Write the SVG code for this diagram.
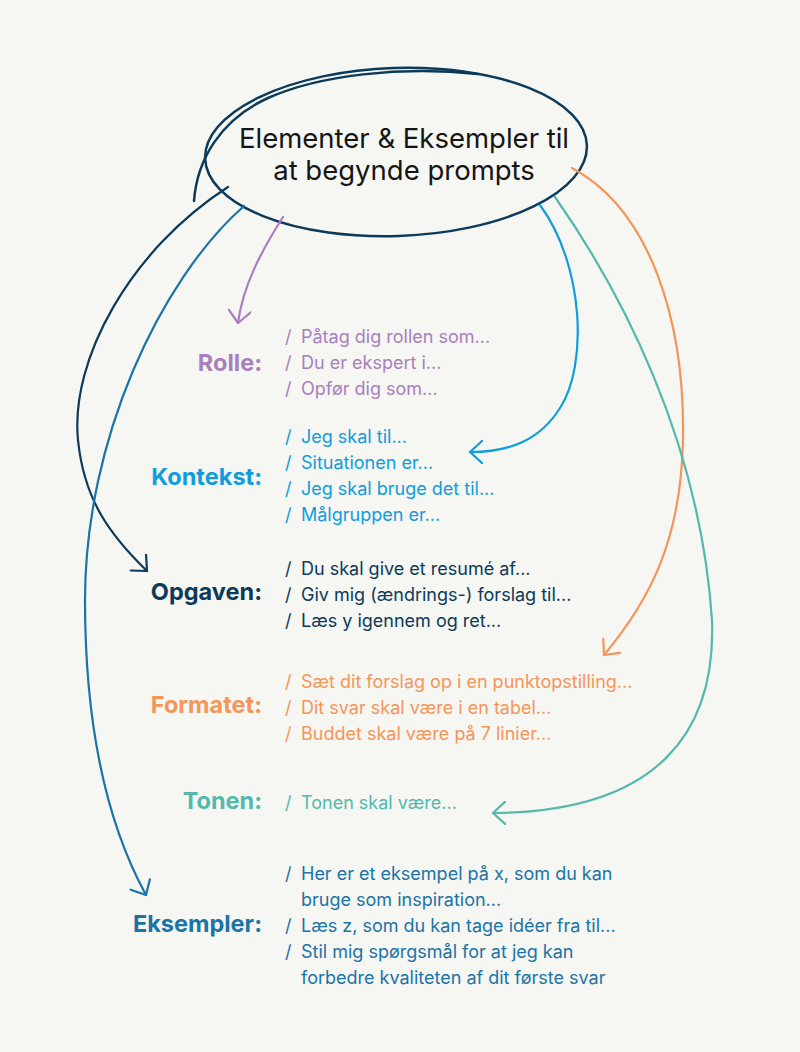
<svg xmlns="http://www.w3.org/2000/svg" width="800" height="1052" viewBox="0 0 800 1052">
<style>
.bg{fill:#f6f6f2}
.title{font-family:Inter,"Liberation Sans",sans-serif;font-size:27.5px;fill:#151515;text-anchor:middle}
.lab{font-family:Inter,"Liberation Sans",sans-serif;font-size:23.5px;font-weight:700;text-anchor:end}
.it{font-family:Inter,"Liberation Sans",sans-serif;font-size:18px}
.c{fill:none;stroke-width:2.2;stroke-linecap:round;stroke-linejoin:round}
.rolle{fill:#a87fbf}.rolle-s{stroke:#a87fbf}
.kon{fill:#0f9ddd}.kon-s{stroke:#0f9ddd}
.opg{fill:#0b3a5a}.opg-s{stroke:#0b3a5a}
.fmt{fill:#f4955a}.fmt-s{stroke:#f4955a}
.ton{fill:#52b9ab}.ton-s{stroke:#52b9ab}
.eks{fill:#1a74a6}.eks-s{stroke:#1a74a6}
</style>
<defs>
<marker id="a-rolle" viewBox="0 0 16 24" refX="14" refY="12" markerWidth="16" markerHeight="24" markerUnits="userSpaceOnUse" orient="auto"><path d="M2,1 L14,12 L2,23" fill="none" stroke="#a87fbf" stroke-width="2.2" stroke-linecap="round" stroke-linejoin="round"/></marker>
<marker id="a-kon" viewBox="0 0 16 24" refX="14" refY="12" markerWidth="16" markerHeight="24" markerUnits="userSpaceOnUse" orient="auto"><path d="M2,1 L14,12 L2,23" fill="none" stroke="#0f9ddd" stroke-width="2.2" stroke-linecap="round" stroke-linejoin="round"/></marker>
<marker id="a-opg" viewBox="0 0 16 24" refX="14" refY="12" markerWidth="16" markerHeight="24" markerUnits="userSpaceOnUse" orient="auto"><path d="M2,1 L14,12 L2,23" fill="none" stroke="#0b3a5a" stroke-width="2.2" stroke-linecap="round" stroke-linejoin="round"/></marker>
<marker id="a-fmt" viewBox="0 0 16 24" refX="14" refY="12" markerWidth="16" markerHeight="24" markerUnits="userSpaceOnUse" orient="auto"><path d="M2,1 L14,12 L2,23" fill="none" stroke="#f4955a" stroke-width="2.2" stroke-linecap="round" stroke-linejoin="round"/></marker>
<marker id="a-ton" viewBox="0 0 16 24" refX="14" refY="12" markerWidth="16" markerHeight="24" markerUnits="userSpaceOnUse" orient="auto"><path d="M2,1 L14,12 L2,23" fill="none" stroke="#52b9ab" stroke-width="2.2" stroke-linecap="round" stroke-linejoin="round"/></marker>
<marker id="a-eks" viewBox="0 0 16 24" refX="14" refY="12" markerWidth="16" markerHeight="24" markerUnits="userSpaceOnUse" orient="auto"><path d="M2,1 L14,12 L2,23" fill="none" stroke="#1a74a6" stroke-width="2.2" stroke-linecap="round" stroke-linejoin="round"/></marker>
</defs>
<rect class="bg" x="0" y="0" width="800" height="1052"/>

<g id="title">
<ellipse cx="396" cy="152" rx="191" ry="84" transform="rotate(-2 396 152)" fill="none" stroke="#0b3a5a" stroke-width="2.5"/>
<path d="M194,201 C 197,160 220,120 268,98 C 320,75 400,66 478,74" fill="none" stroke="#0b3a5a" stroke-width="2.5" stroke-linecap="round"/>
<text class="title" x="404" y="148">Elementer &amp; Eksempler til</text>
<text class="title" x="404" y="180">at begynde prompts</text>
</g>

<g id="connectors">
<path class="c rolle-s" d="M283,217 C 262,250 243,285 238,323" marker-end="url(#a-rolle)"/>
<path class="c kon-s" d="M540,205 C 584,265 588,365 560,408 C 540,440 510,452 470,452" marker-end="url(#a-kon)"/>
<path class="c opg-s" d="M228,187 C 130,250 70,360 78,440 C 84,500 110,535 147,571" marker-end="url(#a-opg)"/>
<path class="c fmt-s" d="M572,168 C 650,210 685,320 683,440 C 681,540 650,600 604,655" marker-end="url(#a-fmt)"/>
<path class="c ton-s" d="M555,197 C 620,290 700,440 712,620 C 716,730 660,812 493,813" marker-end="url(#a-ton)"/>
<path class="c eks-s" d="M244,206 C 160,280 85,440 85,600 C 85,720 105,820 146,895" marker-end="url(#a-eks)"/>
</g>

<g id="rolle">
<text class="lab rolle" x="262" y="371">Rolle:</text>
<text class="it rolle" x="285" y="343">/</text><text class="it rolle" x="301" y="343">Påtag dig rollen som...</text>
<text class="it rolle" x="285" y="369">/</text><text class="it rolle" x="301" y="369">Du er ekspert i...</text>
<text class="it rolle" x="285" y="395">/</text><text class="it rolle" x="301" y="395">Opfør dig som...</text>
</g>

<g id="kontekst">
<text class="lab kon" x="262" y="485">Kontekst:</text>
<text class="it kon" x="285" y="443">/</text><text class="it kon" x="301" y="443">Jeg skal til...</text>
<text class="it kon" x="285" y="469">/</text><text class="it kon" x="301" y="469">Situationen er...</text>
<text class="it kon" x="285" y="495">/</text><text class="it kon" x="301" y="495">Jeg skal bruge det til...</text>
<text class="it kon" x="285" y="521">/</text><text class="it kon" x="301" y="521">Målgruppen er...</text>
</g>

<g id="opgaven">
<text class="lab opg" x="262" y="600">Opgaven:</text>
<text class="it opg" x="285" y="575">/</text><text class="it opg" x="301" y="575">Du skal give et resumé af...</text>
<text class="it opg" x="285" y="601">/</text><text class="it opg" x="301" y="601">Giv mig (ændrings-) forslag til...</text>
<text class="it opg" x="285" y="627">/</text><text class="it opg" x="301" y="627">Læs y igennem og ret...</text>
</g>

<g id="formatet">
<text class="lab fmt" x="262" y="713">Formatet:</text>
<text class="it fmt" x="285" y="688">/</text><text class="it fmt" x="301" y="688">Sæt dit forslag op i en punktopstilling...</text>
<text class="it fmt" x="285" y="714">/</text><text class="it fmt" x="301" y="714">Dit svar skal være i en tabel...</text>
<text class="it fmt" x="285" y="740">/</text><text class="it fmt" x="301" y="740">Buddet skal være på 7 linier...</text>
</g>

<g id="tonen">
<text class="lab ton" x="262" y="809">Tonen:</text>
<text class="it ton" x="285" y="809">/</text><text class="it ton" x="301" y="809">Tonen skal være...</text>
</g>

<g id="eksempler">
<text class="lab eks" x="262" y="932">Eksempler:</text>
<text class="it eks" x="285" y="880">/</text><text class="it eks" x="301" y="880">Her er et eksempel på x, som du kan</text>
<text class="it eks" x="301" y="906">bruge som inspiration...</text>
<text class="it eks" x="285" y="932">/</text><text class="it eks" x="301" y="932">Læs z, som du kan tage idéer fra til...</text>
<text class="it eks" x="285" y="958">/</text><text class="it eks" x="301" y="958">Stil mig spørgsmål for at jeg kan</text>
<text class="it eks" x="301" y="984">forbedre kvaliteten af dit første svar</text>
</g>
</svg>
